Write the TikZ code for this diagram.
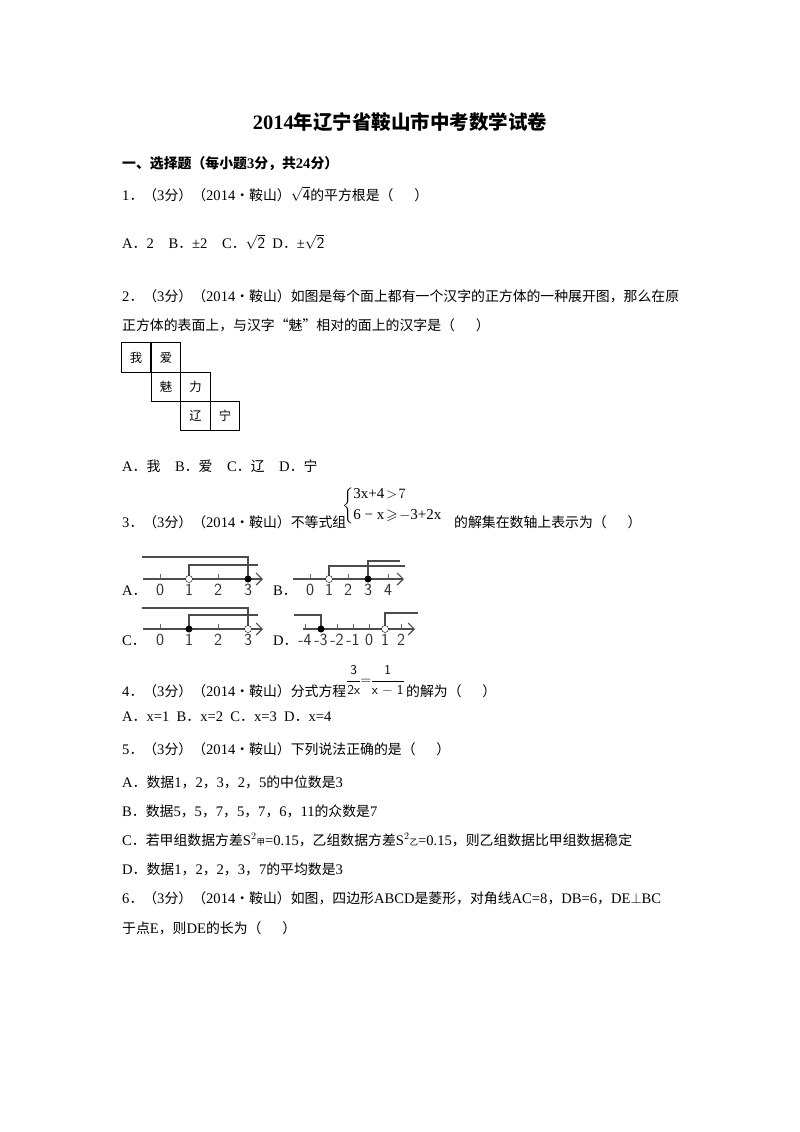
\documentclass[tikz,border=0pt]{standalone}
\usepackage{amssymb}
\usepackage{fontspec}
\usetikzlibrary{arrows.meta}
\setmainfont{Liberation Serif}
\newfontfamily\cj{Noto Sans CJK SC}[Scale=0.95]
\begin{document}
\begin{tikzpicture}[x=1pt,y=-1pt,
  t/.style={anchor=base west,inner sep=0pt,font=\fontsize{14.6}{16}\selectfont},
  ax/.style={draw=black!70,line width=1.2pt,-{Straight Barb[length=6pt]}},
  gl/.style={draw=black!70,line width=1.1pt},
  nl/.style={inner sep=0pt,font=\fontsize{17}{18}\sffamily,text=black!80},
  cell/.style={draw,line width=1pt,minimum size=29.5pt,inner sep=0pt,font=\cj\fontsize{13}{14}\selectfont}]
\useasboundingbox (0,0) rectangle (800,1132);
\fill[white] (0,0) rectangle (800,1132);
\node[inner sep=0pt,font=\fontsize{20.5}{22}\selectfont\bfseries] (title) at (400,122) {2014{\cj 年辽宁省鞍山市中考数学试卷}};
\node[t,font=\fontsize{14.6}{16}\selectfont\bfseries] (sec) at (122,168) {{\cj 一、选择题（每小题}3{\cj 分，共}24{\cj 分）}};
\node[t] (q1) at (122,200) {1{\cj ．（}3{\cj 分）（}2014{\cj •鞍山）}$\sqrt{\mbox{\fontsize{16}{18}\sffamily 4}}${\cj 的平方根是（\quad\enspace ）}};
\node[t] (a1) at (122,248) {A{\cj ．}2\quad B{\cj ．}±2\quad C{\cj ．}$\sqrt{\mbox{\fontsize{16}{18}\sffamily 2}}$\enspace D{\cj ．}±$\sqrt{\mbox{\fontsize{16}{18}\sffamily 2}}$};
\node[t] (q2) at (122,301) {2{\cj ．（}3{\cj 分）（}2014{\cj •鞍山）如图是每个面上都有一个汉字的正方体的一种展开图，那么在原}};
\node[t] (q2b) at (122,330) {{\cj 正方体的表面上，与汉字“魅”相对的面上的汉字是（\quad\enspace ）}};
\node[cell] (c1) at (136,357.5) {我};
\node[cell] (c2) at (166,357.5) {爱};
\node[cell] (c3) at (166,387) {魅};
\node[cell] (c4) at (195.5,387) {力};
\node[cell] (c5) at (195.5,416) {辽};
\node[cell] (c6) at (225,416) {宁};
\node[t] (a2) at (122,471) {A{\cj ．我}\quad B{\cj ．爱}\quad C{\cj ．辽}\quad D{\cj ．宁}};
\node[t] (q3) at (122,527) {3{\cj ．（}3{\cj 分）（}2014{\cj •鞍山）不等式组}};
\node[anchor=west,inner sep=0pt,font=\fontsize{15}{17}\selectfont] (sys) at (342,506) {$\left\{\begin{array}{@{}l@{}}\mbox{3x+4}\!>\!7\\[4pt]\mbox{6 − x}\!\geqslant\! -\mbox{3+2x}\end{array}\right.$};
\node[t] (q3b) at (454,527) {{\cj 的解集在数轴上表示为（\quad\enspace ）}};
% A
\node[t] (la) at (122,595) {A{\cj ．}};
\draw[ax] (143,579) -- (263,579);
\foreach \x/\l in {160/0,189/1,218/2,248/3}{\draw[black!60] (\x,574)--(\x,579); \node[nl] at (\x,590) {\l};}
\draw[gl] (142,557) -- (248,557) -- (248,579);
\draw[gl] (189,579) -- (189,565) -- (258,565);
\draw[fill=white] (189,579) circle (3.5); \fill (248,579) circle (3.5);
% B
\node[t] (lb) at (273,595) {B{\cj ．}};
\draw[ax] (293,579) -- (404,579);
\foreach \x/\l in {310/0,329/1,348/2,368/3,388/4}{\draw[black!60] (\x,574)--(\x,579); \node[nl] at (\x,590) {\l};}
\draw[gl] (329,579) -- (329,566) -- (405,566);
\draw[gl] (368,579) -- (368,561) -- (400,561);
\draw[fill=white] (329,579) circle (3.5); \fill (368,579) circle (3.5);
% C
\node[t] (lc) at (122,645) {C{\cj ．}};
\draw[ax] (143,629) -- (263,629);
\foreach \x/\l in {160/0,189/1,218/2,248/3}{\draw[black!60] (\x,624)--(\x,629); \node[nl] at (\x,640) {\l};}
\draw[gl] (142,608) -- (248,608) -- (248,629);
\draw[gl] (189,629) -- (189,615) -- (258,615);
\fill (189,629) circle (3.5); \draw[fill=white] (248,629) circle (3.5);
% D
\node[t] (ld) at (273,645) {D{\cj ．}};
\draw[ax] (303,629) -- (415,629);
\foreach \x/\l in {305/-4,321/-3,337/-2,353/-1,369/0,385/1,401/2}{\draw[black!60] (\x,624)--(\x,629); \node[nl] at (\x,640) {\l};}
\draw[gl] (294,615) -- (321,615) -- (321,629);
\draw[gl] (385,629) -- (385,613) -- (418,613);
\fill (321,629) circle (3.5); \draw[fill=white] (385,629) circle (3.5);
% Q4
\node[t] (q4) at (122,696) {4{\cj ．（}3{\cj 分）（}2014{\cj •鞍山）分式方程}};
\node[anchor=west,inner sep=0pt,font=\fontsize{13.5}{16}\sffamily] (fr) at (346,680) {$\displaystyle\frac{\mbox{3}}{\mbox{2x}}\!\!=\!\!\frac{\mbox{1}}{\mbox{x − 1}}$};
\node[t] (q4b) at (406,696) {{\cj 的解为（\quad\enspace ）}};
\node[t] (a4) at (122,721) {A{\cj ．}x=1\enspace B{\cj ．}x=2\enspace C{\cj ．}x=3\enspace D{\cj ．}x=4};
\node[t] (q5) at (122,754) {5{\cj ．（}3{\cj 分）（}2014{\cj •鞍山）下列说法正确的是（\quad\enspace ）}};
\node[t] (a5a) at (122,787) {A{\cj ．数据}1{\cj ，}2{\cj ，}3{\cj ，}2{\cj ，}5{\cj 的中位数是}3};
\node[t] (a5b) at (122,816) {B{\cj ．数据}5{\cj ，}5{\cj ，}7{\cj ，}5{\cj ，}7{\cj ，}6{\cj ，}11{\cj 的众数是}7};
\node[t] (a5c) at (122,845) {C{\cj ．若甲组数据方差}S$^2${\cj\fontsize{9}{10}\selectfont 甲}=0.15{\cj ，乙组数据方差}S$^2${\cj\fontsize{9}{10}\selectfont 乙}=0.15{\cj ，则乙组数据比甲组数据稳定}};
\node[t] (a5d) at (122,874) {D{\cj ．数据}1{\cj ，}2{\cj ，}2{\cj ，}3{\cj ，}7{\cj 的平均数是}3};
\node[t] (q6) at (122,903) {6{\cj ．（}3{\cj 分）（}2014{\cj •鞍山）如图，四边形}ABCD{\cj 是菱形，对角线}AC=8{\cj ，}DB=6{\cj ，}DE$\perp$BC};
\node[t] (q6b) at (122,933) {{\cj 于点}E{\cj ，则}DE{\cj 的长为（\quad\enspace ）}};
\end{tikzpicture}
\end{document}
